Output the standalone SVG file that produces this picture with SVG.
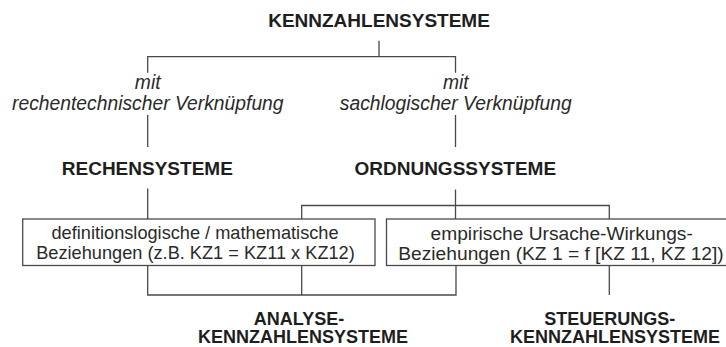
<svg xmlns="http://www.w3.org/2000/svg" width="726" height="347" viewBox="0 0 726 347">
  <style>
    .bg { fill: #ffffff; }
    .head { font-family: "Liberation Sans", Arial, sans-serif; font-weight: bold; font-size: 19px; fill: #1e1e1e; }
    .foot { font-family: "Liberation Sans", Arial, sans-serif; font-weight: bold; font-size: 18px; fill: #1e1e1e; }
    .rel { font-family: "Liberation Sans", Arial, sans-serif; font-style: italic; font-size: 19.3px; fill: #2a2a2a; }
    .body { font-family: "Liberation Sans", Arial, sans-serif; font-size: 18.2px; fill: #2a2a2a; }
    .body-lg { font-family: "Liberation Sans", Arial, sans-serif; font-size: 19.2px; fill: #2a2a2a; }
    .box { fill: #ffffff; stroke: #4a4a4a; stroke-width: 1.3; }
    .wire { fill: none; stroke: #4a4a4a; stroke-width: 1.3; }
  </style>
  <rect class="bg" x="0" y="0" width="726" height="347"/>

  <!-- connectors -->
  <g id="connectors">
    <!-- root split -->
    <path class="wire" d="M379,40.7 V56.7 M147.7,72.7 V56.7 H455.5 V72.7"/>
    <!-- relation labels to system types -->
    <path class="wire" d="M147.7,115 V147 M455.5,115 V147"/>
    <!-- system types to relation boxes -->
    <path class="wire" d="M147.7,188.5 V219 M455.5,189.5 V219"/>
    <path class="wire" d="M301.7,219 V205.5 H609.3 V219"/>
    <!-- relation boxes to analysis / control systems -->
    <path class="wire" d="M147.7,265.5 V295 H456 V265.5 M301.7,265.5 V295"/>
    <path class="wire" d="M609.3,265.5 V295"/>
  </g>

  <g id="root">
    <text class="head" x="379" y="26.7" text-anchor="middle">KENNZAHLENSYSTEME</text>
  </g>

  <g id="rel-left">
    <text class="rel" x="147.7" y="89.3" text-anchor="middle">mit</text>
    <text class="rel" x="147.8" y="110" text-anchor="middle">rechentechnischer Verknüpfung</text>
  </g>

  <g id="rel-right">
    <text class="rel" x="455.8" y="89.3" text-anchor="middle">mit</text>
    <text class="rel" x="455.8" y="110" text-anchor="middle">sachlogischer Verknüpfung</text>
  </g>

  <g id="rechensysteme">
    <text class="head" x="147.3" y="175" text-anchor="middle">RECHENSYSTEME</text>
  </g>

  <g id="ordnungssysteme">
    <text class="head" x="455.3" y="175" text-anchor="middle">ORDNUNGSSYSTEME</text>
  </g>

  <g id="box-definition">
    <rect class="box" x="22.7" y="219" width="352.3" height="46.5"/>
    <text class="body" x="195" y="239.3" text-anchor="middle">definitionslogische / mathematische</text>
    <text class="body" x="195.5" y="258.8" text-anchor="middle">Beziehungen (z.B. KZ1 = KZ11 x KZ12)</text>
  </g>

  <g id="box-empirical">
    <rect class="box" x="386.5" y="219" width="380" height="46.5"/>
    <text class="body-lg" x="561.7" y="240" text-anchor="middle">empirische Ursache-Wirkungs-</text>
    <text class="body-lg" x="398.3" y="260" text-anchor="start">Beziehungen (KZ 1 = f [KZ 11, KZ 12])</text>
  </g>

  <g id="analyse">
    <text class="foot" x="299" y="325" text-anchor="middle">ANALYSE-</text>
    <text class="foot" x="303" y="343.3" text-anchor="middle">KENNZAHLENSYSTEME</text>
  </g>

  <g id="steuerung">
    <text class="foot" x="609.7" y="325" text-anchor="middle">STEUERUNGS-</text>
    <text class="foot" x="615" y="343.3" text-anchor="middle">KENNZAHLENSYSTEME</text>
  </g>
</svg>
